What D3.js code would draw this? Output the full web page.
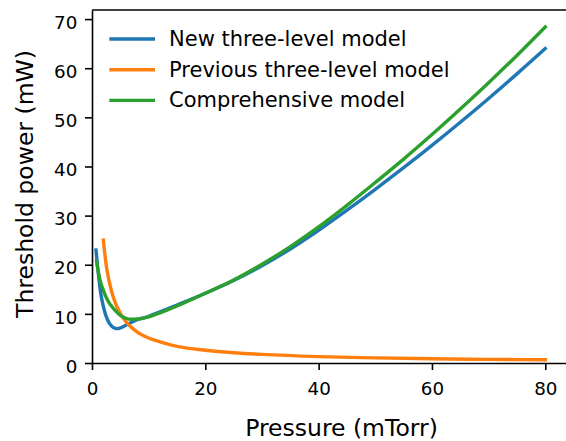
<!DOCTYPE html>
<html>
<head>
<meta charset="utf-8">
<script src="https://cdn.jsdelivr.net/npm/d3@7"></script>
<style>
    body { margin: 0; background: #fff; }
    svg text { font-family: "DejaVu Sans", sans-serif; fill: #000; }
</style>
</head>
<body>
<div id="chart"></div>
<script>
// values
const seriesNames = ['New three-level model', 'Previous three-level model', 'Comprehensive model'];
const seriesColors = ['#1f77b4', '#ff7f0e', '#2ca02c'];

const newPressure = [0.7, 1, 1.5, 2, 2.5, 3, 3.5, 4, 4.5, 5, 6, 7, 8, 10, 12, 15, 20, 25, 30, 35, 40, 45, 50, 55, 60, 65, 70, 75, 80];
const newPower = [23.0, 19.5, 14.5, 11.5, 9.5, 8.2, 7.5, 7.1, 7.0, 7.15, 7.7, 8.3, 8.8, 9.5, 10.4, 11.8, 14.2, 16.8, 19.8, 23.2, 27.0, 31.1, 35.35, 39.75, 44.3, 49.0, 53.85, 58.85, 64.0];

const prevPressure = [2, 2.5, 3, 3.5, 4, 5, 6, 7, 8, 10, 12, 15, 20, 25, 30, 40, 50, 60, 70, 80];
const prevPower = [25.0, 20.0, 16.8, 14.4, 12.6, 10.1, 8.4, 7.2, 6.3, 5.1, 4.3, 3.4, 2.6, 2.1, 1.75, 1.3, 1.05, 0.87, 0.74, 0.65];

const compPressure = [0.8, 1, 1.5, 2, 2.5, 3, 3.5, 4, 4.5, 5, 6, 7, 8, 10, 12, 15, 20, 25, 30, 35, 40, 45, 50, 55, 60, 65, 70, 75, 80];
const compPower = [20.8, 19.3, 16.5, 14.8, 13.4, 12.3, 11.5, 10.8, 10.2, 9.7, 9.1, 8.9, 8.95, 9.4, 10.2, 11.6, 14.2, 16.9, 20.1, 23.7, 27.7, 32.1, 36.75, 41.5, 46.5, 51.7, 57.05, 62.6, 68.4];

const xTicks = [0, 20, 40, 60, 80];
const yTicks = [0, 10, 20, 30, 40, 50, 60, 70];

class ThresholdChart {

    constructor(_config) {
        this.config = {
            parentElement: _config.parentElement,
            containerWidth: _config.containerWidth || 566,
            containerHeight: _config.containerHeight || 441,
            margin: _config.margin || {top: 10, left: 92, bottom: 78}
        };
        this.series = [
            {name: seriesNames[0], color: seriesColors[0], x: newPressure, y: newPower},
            {name: seriesNames[1], color: seriesColors[1], x: prevPressure, y: prevPower},
            {name: seriesNames[2], color: seriesColors[2], x: compPressure, y: compPower}
        ];
        this.initVis();
    }

    initVis() {
        let vis = this;
        let m = vis.config.margin;

        vis.svg = d3.select(vis.config.parentElement)
            .append('svg')
            .attr('width', vis.config.containerWidth)
            .attr('height', vis.config.containerHeight);

        // the axes run past the right edge of the picture (it was cropped)
        vis.x = d3.scaleLinear()
            .domain([0, 88])
            .range([m.left, m.left + 88 * 5.666]);

        vis.y = d3.scaleLinear()
            .domain([0, 71.85])
            .range([vis.config.containerHeight - m.bottom, m.top]);

        vis.line = d3.line()
            .x(d => vis.x(d[0]))
            .y(d => vis.y(d[1]))
            .curve(d3.curveMonotoneX);

        vis.renderVis();
    }

    renderVis() {
        let vis = this;
        let m = vis.config.margin;
        let bottom = vis.y(0);

        vis.svg.selectAll('.series')
            .data(vis.series)
            .join('path')
            .attr('class', 'series')
            .attr('d', s => vis.line(s.x.map((p, i) => [p, s.y[i]])))
            .style('fill', 'none')
            .style('stroke', s => s.color)
            .style('stroke-width', 3.4)
            .style('stroke-linecap', 'square');

        // top spine
        vis.svg.append('line')
            .attr('x1', m.left).attr('x2', vis.config.containerWidth)
            .attr('y1', m.top).attr('y2', m.top)
            .style('stroke', '#000')
            .style('stroke-width', 1.6);

        let xAxis = vis.svg.append('g')
            .attr('transform', `translate(0,${bottom})`)
            .call(d3.axisBottom(vis.x).tickValues(xTicks).tickSize(7).tickSizeOuter(0));
        xAxis.selectAll('text')
            .attr('y', 32).attr('dy', null)
            .style('font-size', '18.3px');

        let yAxis = vis.svg.append('g')
            .attr('transform', `translate(${m.left},0)`)
            .call(d3.axisLeft(vis.y).tickValues(yTicks).tickSize(7).tickSizeOuter(0));
        yAxis.selectAll('text')
            .attr('x', -14.7).attr('dy', '0.5em')
            .style('font-size', '18.3px');

        vis.svg.selectAll('.domain, .tick line')
            .style('stroke', '#000')
            .style('stroke-width', 1.6);

        vis.svg.append('text')
            .attr('x', 341.5)
            .attr('y', 435.5)
            .attr('text-anchor', 'middle')
            .style('font-size', '23.5px')
            .text('Pressure (mTorr)');

        vis.svg.append('text')
            .attr('transform', `translate(33.3,184) rotate(-90)`)
            .attr('text-anchor', 'middle')
            .style('font-size', '23.5px')
            .text('Threshold power (mW)');

        // legend, no frame
        let legend = vis.svg.selectAll('.legend')
            .data(vis.series)
            .join('g')
            .attr('class', 'legend')
            .attr('transform', (d, i) => `translate(0,${45.8 + i * 30.7})`);

        legend.append('line')
            .attr('x1', 109.3).attr('x2', 155)
            .attr('y1', -6.8).attr('y2', -6.8)
            .style('stroke', d => d.color)
            .style('stroke-width', 3.4);

        legend.append('text')
            .attr('x', 169)
            .style('font-size', '21px')
            .text(d => d.name);
    }
}

new ThresholdChart({parentElement: '#chart'});
</script>
</body>
</html>
